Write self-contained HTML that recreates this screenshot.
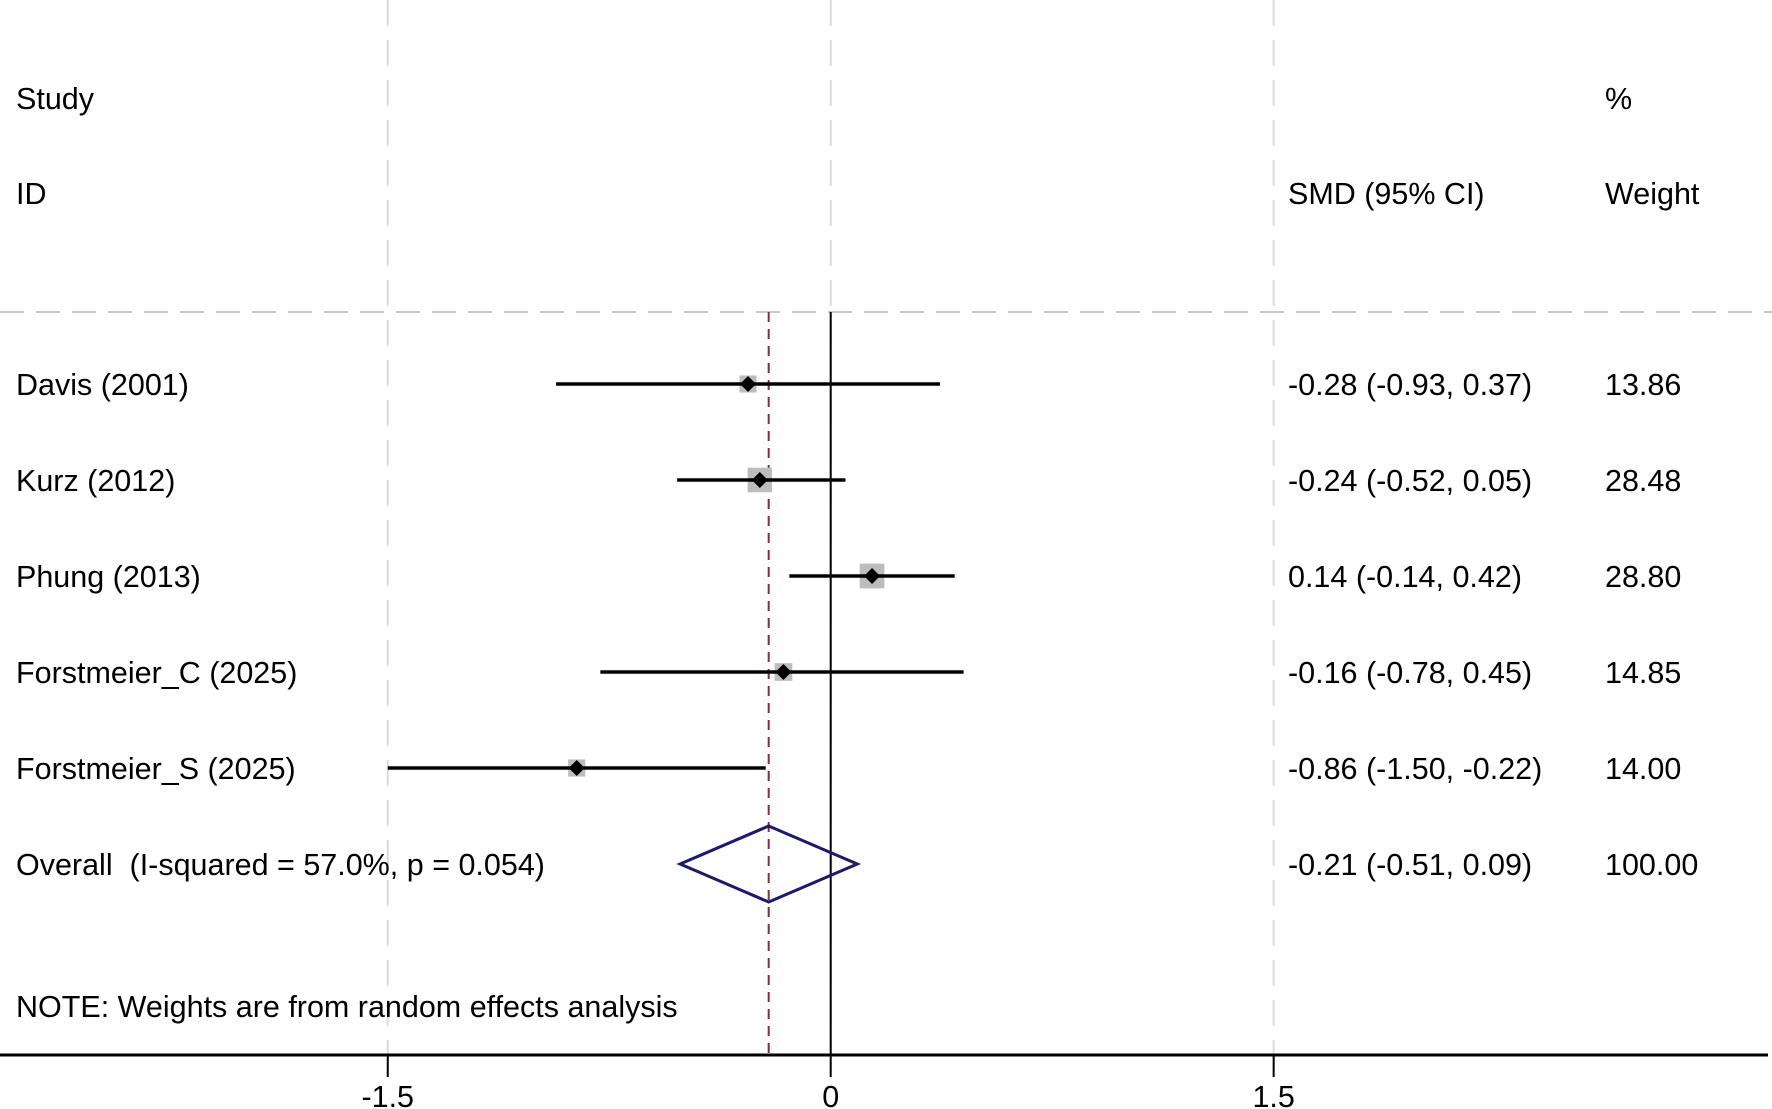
<!DOCTYPE html>
<html><head><meta charset="utf-8"><style>
body{margin:0;background:#fff}
svg{display:block}
text{font-family:"Liberation Sans",Arial,sans-serif;font-size:30.5px;fill:#000;white-space:pre}
</style></head><body>
<svg id="chart" width="1772" height="1109" viewBox="0 0 1772 1109">
<g id="grid"></g>
<g id="plot"></g>
<g id="labels"></g>
</svg>
<script>
const studies=["Davis (2001)","Kurz (2012)","Phung (2013)","Forstmeier_C (2025)","Forstmeier_S (2025)"];
const smd=[-0.28,-0.24,0.14,-0.16,-0.86];
const lower=[-0.93,-0.52,-0.14,-0.78,-1.50];
const upper=[0.37,0.05,0.42,0.45,-0.22];
const weights=[13.86,28.48,28.80,14.85,14.00];
const overall=[-0.21,-0.51,0.09];
const overallLabel="Overall\u00a0\u00a0(I-squared = 57.0%, p = 0.054)";
const ciLabels=["-0.28 (-0.93, 0.37)","-0.24 (-0.52, 0.05)","0.14 (-0.14, 0.42)","-0.16 (-0.78, 0.45)","-0.86 (-1.50, -0.22)"];
const overallCi="-0.21 (-0.51, 0.09)";
const weightLabels=["13.86","28.48","28.80","14.85","14.00"];
const ticks=[-1.5,0,1.5];
const tickLabels=["-1.5","0","1.5"];

const NS="http://www.w3.org/2000/svg";
const x=v=>830.7+v*295.3;
const rowY=i=>384+i*96;
const axisY=1055;
function mk(tag,attrs,parent){const e=document.createElementNS(NS,tag);for(const k in attrs)e.setAttribute(k,attrs[k]);document.getElementById(parent).appendChild(e);return e;}
function txt(s,xx,yy,parent,anchor){const t=mk('text',{x:xx,y:yy,'text-anchor':anchor||'start'},parent);t.textContent=s;return t;}

ticks.forEach((t,i)=>{
  const l=mk('line',{x1:x(t),x2:x(t),y1:0,y2:axisY,stroke:'#dcdcdc','stroke-width':2,'stroke-dasharray':'26 14'},'grid');
  
  
});
let h=mk('line',{x1:0,x2:1772,y1:312,y2:312,stroke:'#c8c8c8','stroke-width':2,'stroke-dasharray':'24 12'},'grid');


let z=mk('line',{x1:x(0),x2:x(0),y1:312,y2:axisY,stroke:'#000','stroke-width':2},'plot');


let od=mk('line',{x1:x(overall[0]),x2:x(overall[0]),y1:312,y2:axisY,stroke:'#8b2a3a','stroke-width':2,'stroke-dasharray':'10 7'},'plot');



studies.forEach((s,i)=>{
  const y=rowY(i);
  const sz=4.6*Math.sqrt(weights[i]);
  const b=mk('rect',{x:x(smd[i])-sz/2,y:y-sz/2,width:sz,height:sz,fill:'#bdbdbd'},'plot');
  
  
  const l=mk('line',{x1:x(lower[i]),x2:x(upper[i]),y1:y,y2:y,stroke:'#000','stroke-width':3.5},'plot');
  
  
  const cx=x(smd[i]);
  const d=mk('polygon',{points:`${cx-8},${y} ${cx},${y-8} ${cx+8},${y} ${cx},${y+8}`,fill:'#000'},'plot');
  
  
  let t=txt(s,16,y+11,'labels');
  
  
  t=txt(ciLabels[i],1288,y+11,'labels');
  
  
  t=txt(weightLabels[i],1605,y+11,'labels');
  
  
});
const oy=rowY(5);
let dm=mk('polygon',{points:`${x(overall[1])},${oy} ${x(overall[0])},${oy-38} ${x(overall[2])},${oy} ${x(overall[0])},${oy+38}`,fill:'none',stroke:'#1a1a6e','stroke-width':3},'plot');


let t=txt(overallLabel,16,oy+11,'labels');


t=txt(overallCi,1288,oy+11,'labels');


t=txt("100.00",1605,oy+11,'labels');



[["Study",16,109,'header-study'],["ID",16,204,'header-id'],["SMD (95% CI)",1288,204,'header-smd'],["%",1605,109,'header-percent'],["Weight",1605,204,'header-weight'],["NOTE: Weights are from random effects analysis",16,1017,'note']].forEach(a=>{
  const e=txt(a[0],a[1],a[2],'labels');
  
  
});
let ax=mk('line',{x1:0,x2:1768,y1:axisY,y2:axisY,stroke:'#000','stroke-width':3},'plot');


ticks.forEach((v,i)=>{
  const tk=mk('line',{x1:x(v),x2:x(v),y1:axisY,y2:axisY+22,stroke:'#000','stroke-width':2},'plot');
  
  
  const tl=txt(tickLabels[i],x(v),1107,'labels','middle');
  
  
});
</script>
</body></html>
